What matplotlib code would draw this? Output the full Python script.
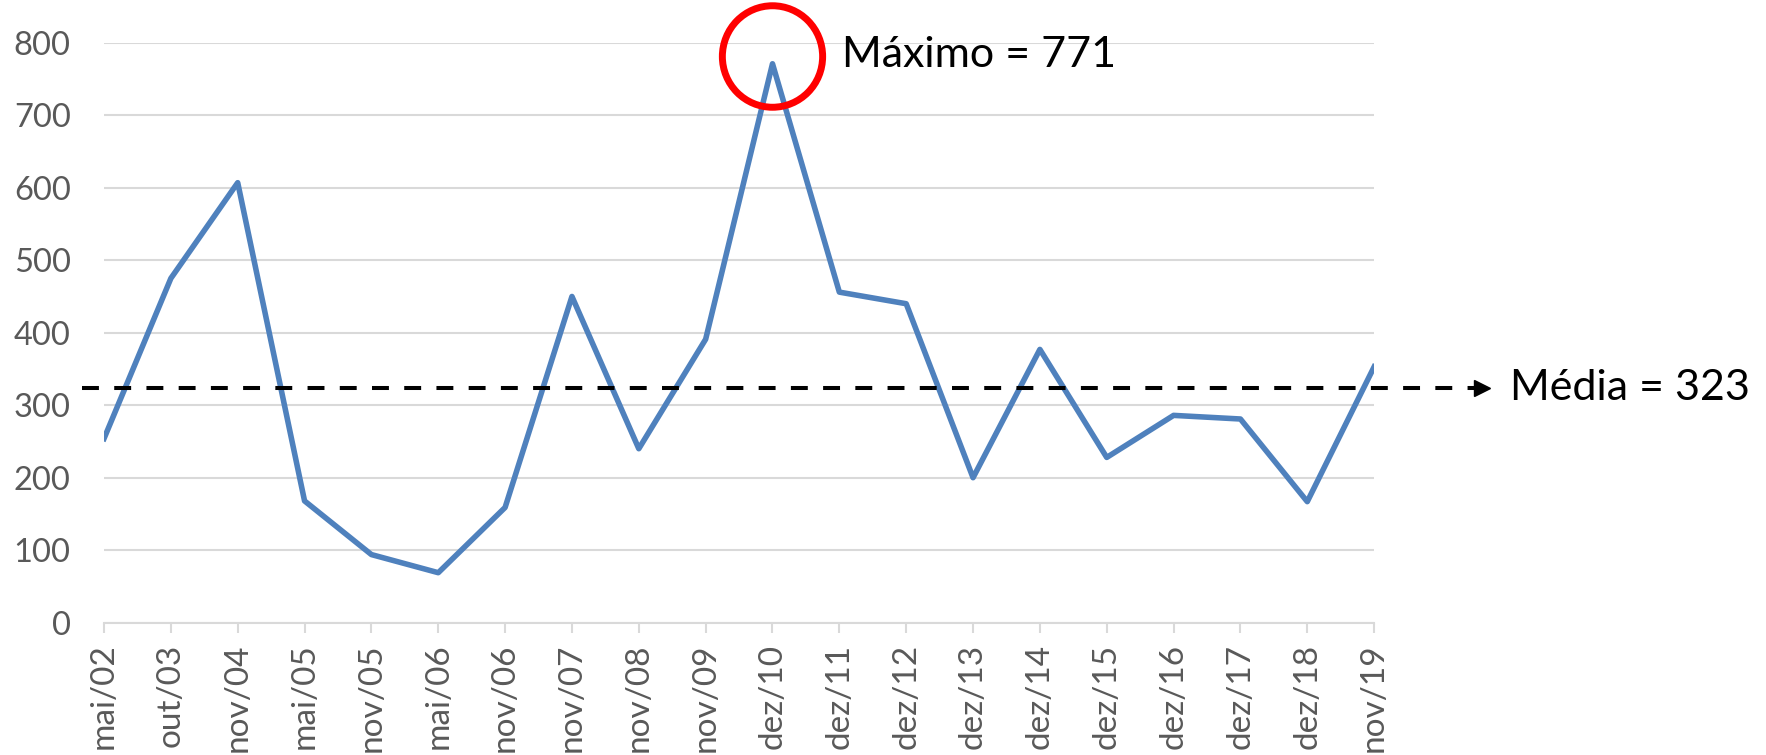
import numpy as np
import matplotlib
matplotlib.use("Agg")
import matplotlib.pyplot as plt
from matplotlib.patches import Ellipse

labels = ["mai/02", "out/03", "nov/04", "mai/05", "nov/05", "mai/06", "nov/06",
          "nov/07", "nov/08", "nov/09", "dez/10", "dez/11", "dez/12", "dez/13",
          "dez/14", "dez/15", "dez/16", "dez/17", "dez/18", "nov/19"]
values = [254, 475, 607, 168, 94, 69, 159, 450, 240, 391, 771, 456, 440, 200,
          377, 228, 286, 281, 167, 353]

blue = "#4F81BD"
grey = "#D9D9D9"
txt = "#595959"

fig = plt.figure(figsize=(17.66, 7.55), dpi=100)
ax = fig.add_axes([0.0589, 0.1752, 0.7192, 0.7682])

x = np.arange(len(values))
ax.plot(x, values, color=blue, lw=4.0, solid_joinstyle="round", zorder=3)

ax.set_xlim(0, len(values) - 1)
ax.set_ylim(0, 800)
ax.set_yticks(range(0, 900, 100))
ax.set_xticks(x)
ax.set_xticklabels(labels, rotation=90, family="Lato", fontsize=24, color=txt)
for t in ax.get_yticklabels():
    t.set_family("Lato")
    t.set_fontsize(23.5)
    t.set_color(txt)
ax.tick_params(axis="y", length=0, pad=24)
ax.tick_params(axis="x", length=7, width=1.5, color=grey, pad=8)
ax.grid(axis="y", color=grey, lw=1.5)
ax.set_axisbelow(True)
for s in ["left", "right", "top"]:
    ax.spines[s].set_visible(False)
ax.spines["bottom"].set_color(grey)
ax.spines["bottom"].set_linewidth(1.5)

# media
media = np.mean(values)
ax.plot([-0.33, 20.6], [media, media], color="black", lw=2.9, dashes=(4.2, 3.8),
        clip_on=False, zorder=4)
ax.plot([20.62], [media], marker=">", color="black", markersize=11, clip_on=False, zorder=4)
ax.text(21.04, media, "Média = %d" % round(media), family="Lato", fontsize=31,
        va="center", ha="left")

# maximo
imax = int(np.argmax(values))
vmax = values[imax]
ax.add_patch(Ellipse((imax, vmax + 10), 1.5, 140, fill=False, edgecolor="#FF0000",
                     lw=5, clip_on=False, zorder=5))
ax.annotate("Máximo = %d" % vmax, xy=(imax, vmax), xytext=(50, 6.5),
            textcoords="offset points", family="Lato", fontsize=31,
            va="center", ha="left")

fig.savefig("out.png", dpi=100)
